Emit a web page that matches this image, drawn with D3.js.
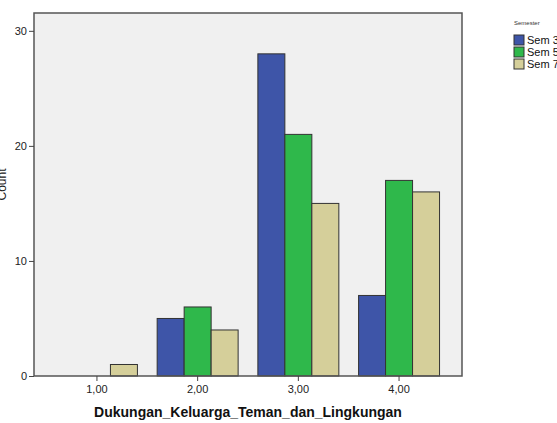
<!DOCTYPE html>
<meta charset="utf-8">
<head>
    <style>
        body {margin: 0; background: #fff;}
        text {font-family: Arial, "Liberation Sans", sans-serif;}
        .tick text {fill: #222; font-size: 11px;}
        .tick line {stroke: #444;}
    </style>
    <script src="https://d3js.org/d3.v7.min.js"></script>
</head>
<body>
<script>

    var categories = ["1,00", "2,00", "3,00", "4,00"],
        seriesNames = ["Sem 3", "Sem 5", "Sem 7"],
        sem3 = [0, 5, 28, 7],
        sem5 = [0, 6, 21, 17],
        sem7 = [1, 4, 15, 16],
        yTicks = [0, 10, 20, 30];

    var colors = ["#3e55a8", "#2fb84b", "#d5cf9a"];
    var series = [sem3, sem5, sem7];

    var margin = {top: 13, right: 95, bottom: 47, left: 34},
        width = 557 - margin.left - margin.right,
        height = 423 - margin.top - margin.bottom;

    var svg = d3.select("body").append("svg")
        .attr("width", 557)
        .attr("height", 423)
      .append("g")
        .attr("transform", "translate(" + margin.left + "," + margin.top + ")")

    var x = d3.scaleBand()
        .domain(categories)
        .range([0, width])
        .paddingInner(0.196)
        .paddingOuter(0.223);

    var xs = d3.scaleBand()
        .domain(seriesNames)
        .range([0, x.bandwidth()]);

    var y = d3.scaleLinear()
        .domain([0, 31.55])
        .range([height, 0]);

    svg.append("rect")
        .attr("width", width)
        .attr("height", height)
        .attr("fill", "#f0f0f0");

    var groups = svg.selectAll(".grp")
        .data(categories)
      .enter().append("g")
        .attr("transform", function(d) {return "translate(" + x(d) + ",0)"});

    groups.selectAll("rect")
        .data(function(d, i) {return series.map(function(s, j) {return {v: s[i], j: j}})})
      .enter().append("rect")
        .filter(function(d) {return d.v > 0})
        .attr("x", function(d) {return xs(seriesNames[d.j])})
        .attr("y", function(d) {return y(d.v)})
        .attr("width", xs.bandwidth())
        .attr("height", function(d) {return y(0) - y(d.v)})
        .attr("fill", function(d) {return colors[d.j]})
        .attr("stroke", "#333")
        .attr("stroke-width", 1);

    svg.append("rect")
        .attr("width", width)
        .attr("height", height)
        .attr("fill", "none")
        .attr("stroke", "#555")
        .attr("stroke-width", 1.5);

    svg.append("g")
        .attr("class", "tick")
        .call(d3.axisLeft(y).tickValues(yTicks).tickSize(5).tickPadding(2))
        .call(function(g) {g.select(".domain").remove()});

    svg.append("g")
        .attr("class", "tick")
        .attr("transform", "translate(0," + height + ")")
        .call(d3.axisBottom(x).tickSize(5).tickPadding(4))
        .call(function(g) {g.select(".domain").remove()});

    svg.append("text")
        .attr("x", width / 2)
        .attr("y", height + 41)
        .attr("text-anchor", "middle")
        .attr("font-size", "14px")
        .attr("font-weight", "bold")
        .attr("fill", "#111")
        .text("Dukungan_Keluarga_Teman_dan_Lingkungan");

    // y title: mostly outside the window, as in the original export
    svg.append("text")
        .attr("transform", "translate(" + (-28) + "," + (height / 2 - 10) + ") rotate(-90)")
        .attr("text-anchor", "middle")
        .attr("font-size", "12px")
        .attr("fill", "#222")
        .text("Count");

    var legend = d3.select("svg").append("g")
        .attr("transform", "translate(514,20)");

    legend.append("text")
        .attr("x", 0)
        .attr("y", 5)
        .attr("font-size", "6px")
        .attr("fill", "#333")
        .text("Semester");

    var items = legend.selectAll(".item")
        .data(seriesNames)
      .enter().append("g")
        .attr("transform", function(d, i) {return "translate(0," + (15 + i * 12) + ")"});

    items.append("rect")
        .attr("width", 10)
        .attr("height", 10)
        .attr("fill", function(d, i) {return colors[i]})
        .attr("stroke", "#333");

    items.append("text")
        .attr("x", 13)
        .attr("y", 9)
        .attr("font-size", "11px")
        .attr("fill", "#111")
        .text(function(d) {return d});

</script>
</body>
